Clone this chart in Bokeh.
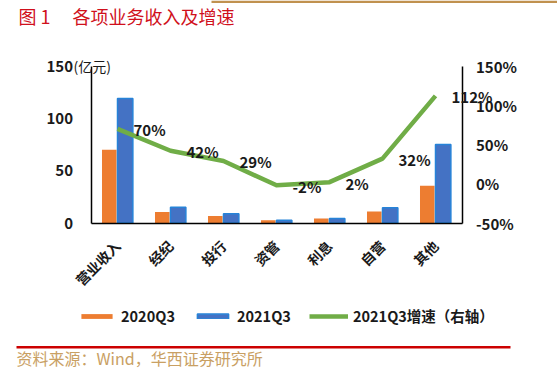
import math
from bokeh.plotting import figure
from bokeh.models import (Range1d, LinearAxis, ColumnDataSource, LabelSet, Label,
                          Legend, LegendItem, FixedTicker, BoxAnnotation)
from bokeh.core.properties import value
from bokeh.transform import dodge
from bokeh.embed import file_html
from bokeh.resources import INLINE

categories = ["营业收入", "经纪", "投行", "资管", "利息", "自营", "其他"]
rev_2020q3 = [70, 10.5, 6.8, 2.6, 4.2, 11, 35.5]
rev_2021q3 = [119, 15, 8.8, 2.55, 4.3, 14.5, 75]
growth_pct = [70, 42, 29, -2, 2, 32, 112]
growth_labels = ["70%", "42%", "29%", "-2%", "2%", "32%", "112%"]
left_ticks = [0, 50, 100, 150]
right_ticks = [-50, 0, 50, 100, 150]
series_names = ["2020Q3", "2021Q3", "2021Q3增速（右轴）"]

CJK = "Noto Sans CJK SC"
ORANGE = "#ed7d31"
BLUE = "#4472c4"
BLUE_EDGE = "#2683d8"
GREEN = "#70ad47"
TXT = "#1a1a1a"
W, H = 557, 378

# layout geometry (page pixels)
UNIT = 53.0            # px per category
AX_LEFT = 90.5         # left axis line
AX_BOTTOM = 222.5      # zero line
AX_TOP = 65.5          # top of value axes
LEFT_MAX, PCT_MIN, PCT_MAX = 150, -50, 150

x_pos = list(range(len(categories)))
src = ColumnDataSource(dict(x=x_pos, cat=categories, a=rev_2020q3, b=rev_2021q3,
                            g=growth_pct, gl=growth_labels))

xs = -0.5 - AX_LEFT / UNIT
x_range = Range1d(xs, xs + W / UNIT)
ppx_l = LEFT_MAX / (AX_BOTTOM - AX_TOP)
y_range = Range1d(-(H - AX_BOTTOM) * ppx_l, LEFT_MAX + AX_TOP * ppx_l)
ppx_r = (PCT_MAX - PCT_MIN) / (AX_BOTTOM - AX_TOP)
pct_range = Range1d(PCT_MIN - (H - AX_BOTTOM) * ppx_r, PCT_MAX + AX_TOP * ppx_r)

p = figure(width=W, height=H, x_range=x_range, y_range=y_range,
           output_backend="svg", toolbar_location=None, min_border=0)
p.outline_line_color = None
p.xgrid.visible = False
p.ygrid.visible = False
p.background_fill_color = "white"
p.border_fill_color = "white"
p.extra_y_ranges = {"pct": pct_range}

r1 = p.vbar(x=dodge("x", -0.155), top="a", width=0.275, source=src,
            fill_color=ORANGE, line_color=None)
r2 = p.vbar(x=dodge("x", 0.145), top="b", width=0.29, source=src,
            fill_color=BLUE, line_color=BLUE_EDGE, line_width=1.5)
r3 = p.line(x="x", y="g", source=src, y_range_name="pct", line_color=GREEN,
            line_width=4.5, line_join="round")


def style_axis(a, standoff):
    a.axis_line_color = "black"
    a.axis_line_width = 1.5
    a.major_tick_line_color = None
    a.minor_tick_line_color = None
    a.major_tick_out = 0
    a.major_tick_in = 0
    a.major_label_standoff = standoff
    a.major_label_text_font = CJK
    a.major_label_text_font_style = "bold"
    a.major_label_text_color = TXT


ax = p.xaxis[0]
style_axis(ax, 20)
ax.fixed_location = 0
ax.bounds = (-0.5, len(categories) - 0.5)
ax.ticker = FixedTicker(ticks=x_pos)
ax.major_label_overrides = {i: c for i, c in zip(x_pos, categories)}
ax.major_label_orientation = math.pi / 4
ax.major_label_text_font_size = "14px"

ay = p.yaxis[0]
style_axis(ay, 18)
ay.fixed_location = -0.5
ay.bounds = (0, LEFT_MAX)
ay.ticker = FixedTicker(ticks=left_ticks)
ay.major_label_text_font_size = "15px"

ry = LinearAxis(y_range_name="pct", ticker=FixedTicker(ticks=right_ticks),
                major_label_overrides={v: f"{v}%" for v in right_ticks})
style_axis(ry, 14)
ry.fixed_location = len(categories) - 0.5
ry.bounds = (PCT_MIN, PCT_MAX)
ry.major_label_text_font_size = "15px"
p.add_layout(ry, "right")

# data labels
labels = LabelSet(x="x", y="g", text="gl", source=src, y_range_name="pct",
                  x_offset=16, y_offset=-1, text_align="left", text_baseline="middle",
                  text_font=value(CJK), text_font_style="bold", text_font_size="15px",
                  text_color=TXT)
p.add_layout(labels)

# unit label next to the top tick
p.add_layout(Label(x=73, y=H - 65, x_units="screen", y_units="screen", text="(亿元)",
                   text_font=CJK, text_font_size="14px", text_color=TXT,
                   text_align="left", text_baseline="middle"))

# title and decorations
p.add_layout(BoxAnnotation(left=211, right=W, top=H, bottom=H - 2.5,
                           left_units="screen", right_units="screen",
                           top_units="screen", bottom_units="screen",
                           fill_color="#c0914f", fill_alpha=1, line_color=None))
p.add_layout(Label(x=18, y=H - 15, x_units="screen", y_units="screen", text="图 1",
                   text_font=CJK, text_font_size="18px", text_color="#d0101c",
                   text_align="left", text_baseline="middle"))
p.add_layout(Label(x=72, y=H - 15, x_units="screen", y_units="screen",
                   text="各项业务收入及增速",
                   text_font=CJK, text_font_size="18px", text_color="#d0101c",
                   text_align="left", text_baseline="middle"))

# footer
p.add_layout(BoxAnnotation(left=16, right=510, top=H - 345.5, bottom=H - 348,
                           left_units="screen", right_units="screen",
                           top_units="screen", bottom_units="screen",
                           fill_color="#cc0000", fill_alpha=1, line_color=None))
p.add_layout(Label(x=16, y=H - 357, x_units="screen", y_units="screen",
                   text="资料来源：Wind，华西证券研究所",
                   text_font=CJK, text_font_size="16px", text_color="#c9a063",
                   text_align="left", text_baseline="middle"))

legend = Legend(items=[LegendItem(label=series_names[0], renderers=[r1]),
                       LegendItem(label=series_names[1], renderers=[r2]),
                       LegendItem(label=series_names[2], renderers=[r3])],
                location=(77, H - 318 - 8), orientation="horizontal", padding=0, margin=0,
                spacing=18, glyph_width=39, glyph_height=6, label_standoff=5,
                label_height=16, border_line_color=None, background_fill_alpha=0,
                label_text_font=CJK, label_text_font_style="bold",
                label_text_font_size="14.5px", label_text_color=TXT)
p.add_layout(legend)

open("out.html", "w").write(file_html(p, INLINE))
